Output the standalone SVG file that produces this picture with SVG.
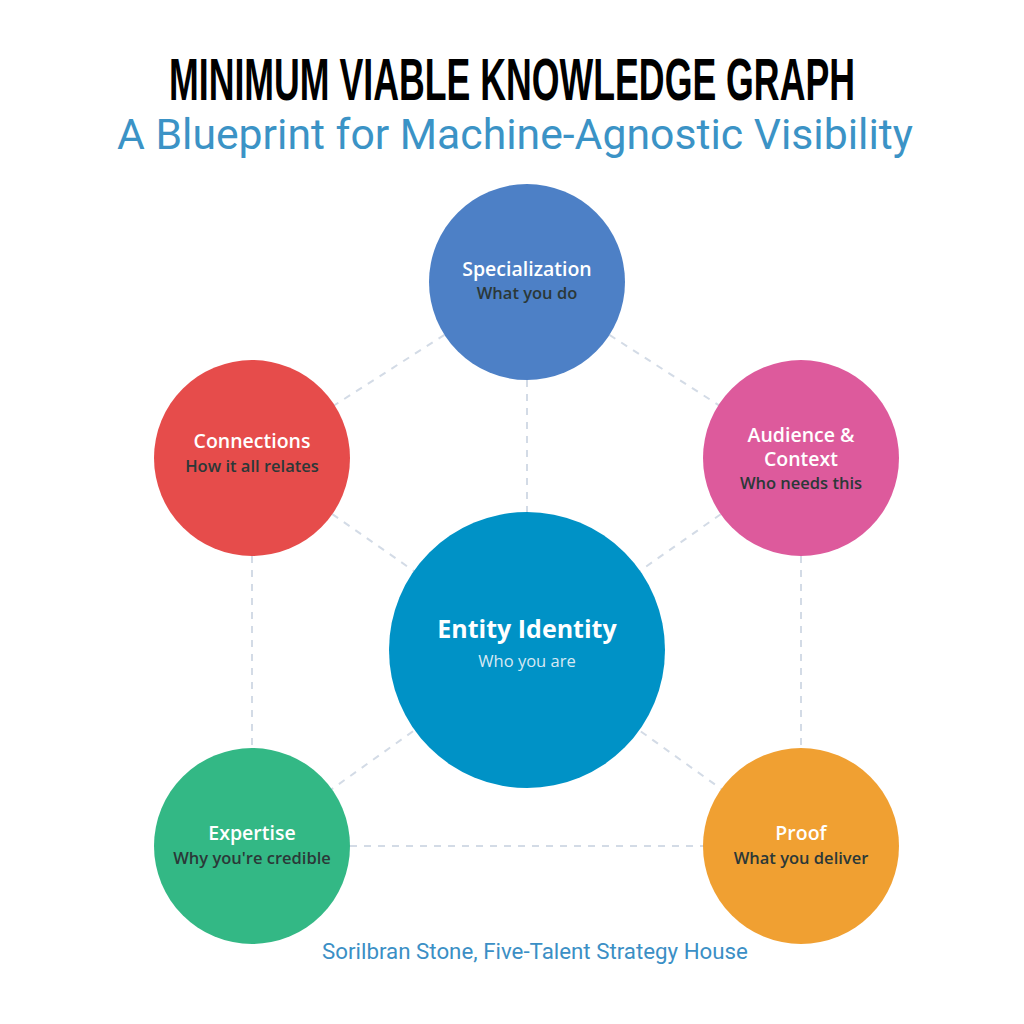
<svg xmlns="http://www.w3.org/2000/svg" width="1024" height="1024" viewBox="0 0 1024 1024">
<style>
.conn{stroke:#d3dbe6;stroke-width:2;stroke-dasharray:7 7;fill:none}
.t{font-family:"Open Sans","Noto Sans",sans-serif;font-weight:600;font-size:19.5px;fill:#ffffff;text-anchor:middle}
.s{font-family:"Open Sans","Noto Sans",sans-serif;font-weight:600;font-size:16.5px;fill:#2b3838;text-anchor:middle}
</style>
<rect width="1024" height="1024" fill="#ffffff"/>
<text x="512" y="100" font-family="Liberation Sans, Arial, sans-serif" font-weight="bold" font-size="59" fill="#000" text-anchor="middle" textLength="686" lengthAdjust="spacingAndGlyphs">MINIMUM VIABLE KNOWLEDGE GRAPH</text>
<text x="515" y="149" font-family="Roboto, sans-serif" font-size="42" fill="#3b93c6" text-anchor="middle" textLength="796" lengthAdjust="spacingAndGlyphs">A Blueprint for Machine-Agnostic Visibility</text>
<g id="connectors">
<line class="conn" x1="527" y1="282" x2="527" y2="650"/>
<line class="conn" x1="527" y1="282" x2="252" y2="458"/>
<line class="conn" x1="527" y1="282" x2="801" y2="458"/>
<line class="conn" x1="252" y1="458" x2="527" y2="650"/>
<line class="conn" x1="801" y1="458" x2="527" y2="650"/>
<line class="conn" x1="252" y1="458" x2="252" y2="846"/>
<line class="conn" x1="801" y1="458" x2="801" y2="846"/>
<line class="conn" x1="252" y1="846" x2="801" y2="846"/>
<line class="conn" x1="527" y1="650" x2="252" y2="846"/>
<line class="conn" x1="527" y1="650" x2="801" y2="846"/>
</g>
<g id="node-specialization">
<circle cx="527" cy="282" r="98" fill="#4d80c6"/>
<text class="t" x="527" y="276">Specialization</text>
<text class="s" x="527" y="299">What you do</text>
</g>
<g id="node-connections">
<circle cx="252" cy="458" r="98" fill="#e64c4b"/>
<text class="t" x="252" y="448">Connections</text>
<text class="s" x="252" y="472">How it all relates</text>
</g>
<g id="node-audience">
<circle cx="801" cy="458" r="98" fill="#dd5a9c"/>
<text class="t" x="801" y="442">Audience &amp;</text>
<text class="t" x="801" y="466">Context</text>
<text class="s" x="801" y="489">Who needs this</text>
</g>
<g id="node-entity">
<circle cx="527" cy="650" r="138" fill="#0092c6"/>
<text class="t" x="527" y="638" style="font-size:25px;font-weight:700">Entity Identity</text>
<text class="s" x="527" y="667" style="font-weight:400;font-size:16.5px;fill:#d8e9f4">Who you are</text>
</g>
<g id="node-expertise">
<circle cx="252" cy="846" r="98" fill="#33b885"/>
<text class="t" x="252" y="840">Expertise</text>
<text class="s" x="252" y="864">Why you're credible</text>
</g>
<g id="node-proof">
<circle cx="801" cy="846" r="98" fill="#f0a032"/>
<text class="t" x="801" y="840">Proof</text>
<text class="s" x="801" y="864">What you deliver</text>
</g>
<text x="535" y="959" font-family="Roboto, sans-serif" font-size="22.3" fill="#3b8fc5" text-anchor="middle">Sorilbran Stone, Five-Talent Strategy House</text>
</svg>
